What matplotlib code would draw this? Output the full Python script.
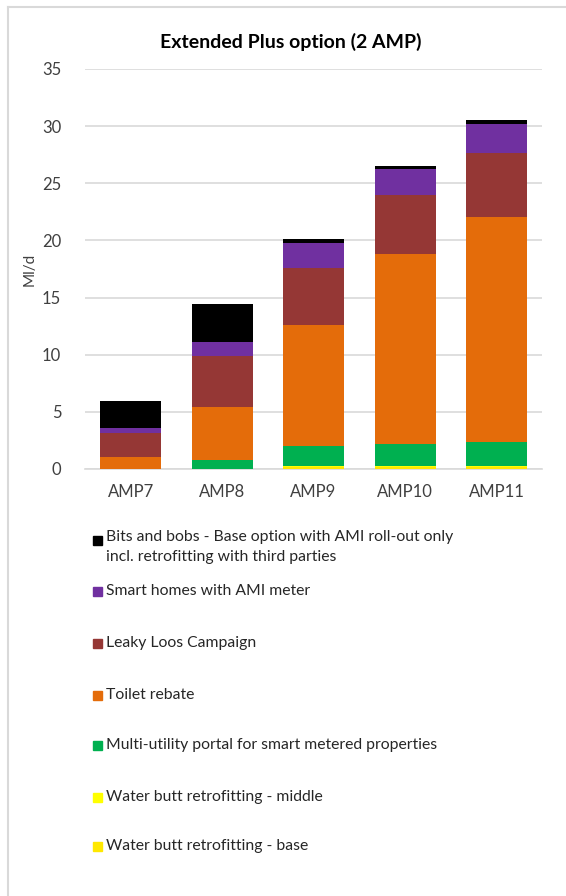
import numpy as np
import matplotlib.pyplot as plt
from matplotlib.patches import Rectangle
from matplotlib.lines import Line2D

plt.rcParams['font.family'] = ['Lato', 'DejaVu Sans']

periods = ['AMP7', 'AMP8', 'AMP9', 'AMP10', 'AMP11']

# stacked from the bottom up
butt_base = [0.0, 0.0, 0.15, 0.15, 0.15]
butt_middle = [0.0, 0.0, 0.15, 0.15, 0.15]
portal = [0.0, 0.8, 1.7, 1.9, 2.1]
toilet = [1.05, 4.6, 10.6, 16.6, 19.65]
leaky = [2.1, 4.5, 5.0, 5.15, 5.6]
smart = [0.45, 1.25, 2.15, 2.3, 2.5]
bits = [2.35, 3.25, 0.4, 0.25, 0.4]

series = [
    ('Water butt retrofitting - base', butt_base, '#FFE800'),
    ('Water butt retrofitting - middle', butt_middle, '#FFFF00'),
    ('Multi-utility portal for smart metered properties', portal, '#00B050'),
    ('Toilet rebate', toilet, '#E46C0A'),
    ('Leaky Loos Campaign', leaky, '#953735'),
    ('Smart homes with AMI meter', smart, '#7030A0'),
    ('Bits and bobs - Base option with AMI roll-out only\nincl. retrofitting with third parties', bits, '#000000'),
]

fig = plt.figure(figsize=(5.66, 8.96), dpi=100)
ax = fig.add_axes([0.150, 0.4766, 0.808, 0.4464])

x = np.arange(len(periods))
bottom = np.zeros(len(periods))
for name, vals, col in series:
    ax.bar(x, vals, width=0.667, bottom=bottom, color=col, zorder=3)
    bottom += np.array(vals)

ax.set_xlim(-0.5, len(periods) - 0.5)
ax.set_ylim(0, 35)
ax.set_yticks(np.arange(0, 36, 5))
ax.set_xticks(x)
ax.set_xticklabels(periods)
ax.yaxis.grid(True, color='#D9D9D9', linewidth=1.2, zorder=0)
for s in ['top', 'right', 'left']:
    ax.spines[s].set_visible(False)
ax.spines['bottom'].set_color('#D9D9D9')
ax.spines['bottom'].set_linewidth(1.2)
ax.tick_params(axis='both', length=0, labelsize=12, colors='#404040')
ax.tick_params(axis='x', pad=11)
ax.tick_params(axis='y', pad=17)
ax.set_ylabel('Ml/d', fontsize=11, color='#404040', labelpad=4)

W, H = 566, 896
# title sits a bit left of the plot centre, as in the chart
fig.text(291 / W, (H - 42) / H, 'Extended Plus option (2 AMP)', fontsize=14,
         fontweight='bold', ha='center', va='center')

# legend, drawn by hand (top entry first)
legend_y = [540, 591, 643, 695, 745, 797, 846]
for (name, vals, col), yy in zip(series[::-1], legend_y):
    fig.patches.append(Rectangle((93 / W, (H - yy - 4.5) / H), 9 / W, 9 / H,
                                 transform=fig.transFigure, color=col))
    if '\n' in name:
        fig.text(106 / W, (H - yy + 10) / H, name, fontsize=11.3, color='#262626',
                 va='top', linespacing=1.55)
    else:
        fig.text(106 / W, (H - yy) / H, name, fontsize=11.3, color='#262626',
                 va='center')

# frame lines at top and left
fig.add_artist(Line2D([8 / W, 1], [1 - 7 / H, 1 - 7 / H], color='#D9D9D9', lw=1.5))
fig.add_artist(Line2D([8 / W, 8 / W], [0, 1 - 7 / H], color='#D9D9D9', lw=1.5))

fig.savefig('out.png', dpi=100)
